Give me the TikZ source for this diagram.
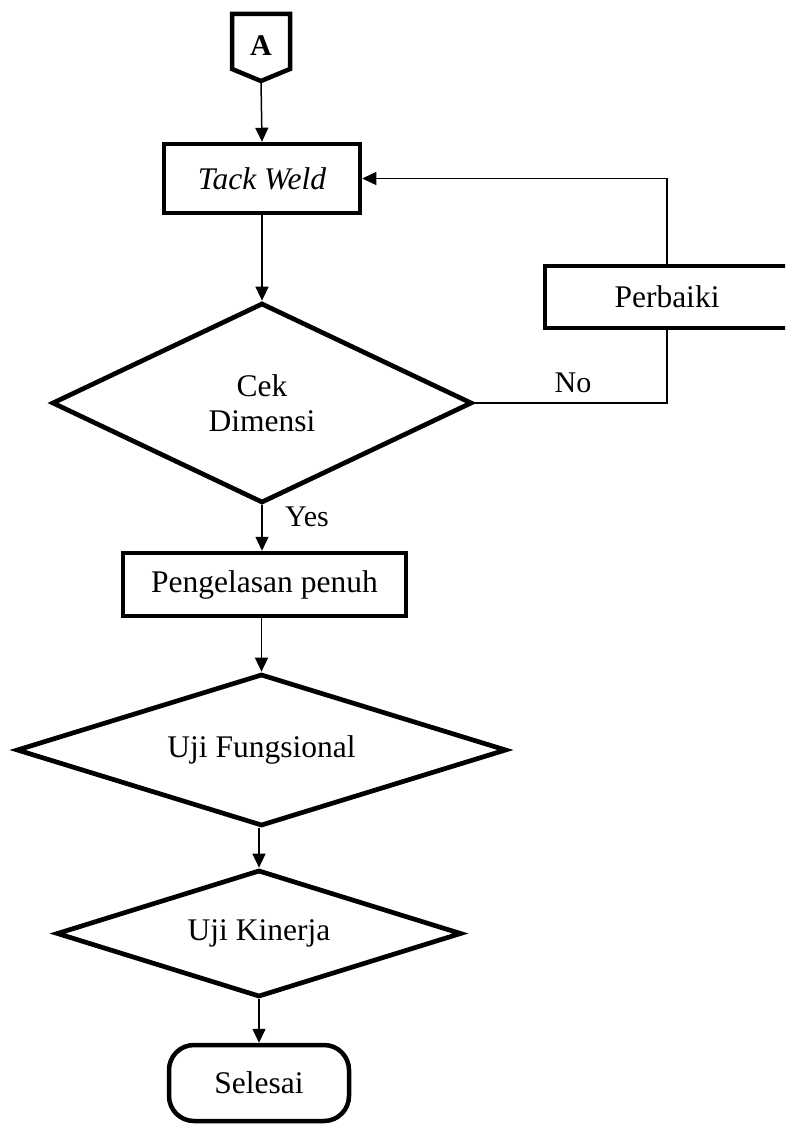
\documentclass[tikz,border=0pt]{standalone}
\usepackage{fontspec}
\setmainfont{Liberation Serif}
\usetikzlibrary{shapes.geometric,arrows.meta}
\newcommand\mainfsz{\fontsize{31.5}{35}\selectfont}
\newcommand\lblfsz{\fontsize{30}{34}\selectfont}
\begin{document}
\begin{tikzpicture}[x=1pt,y=-1pt,
  box/.style={draw,line width=4.5pt,rectangle,inner sep=0pt,font=\mainfsz},
  dia/.style={draw,line width=4.7pt,diamond,shape aspect=3,inner sep=0pt,font=\mainfsz,align=center},
  conn/.style={line width=1.5pt,-{Triangle[length=14pt,width=13pt]}},
  plain/.style={line width=1.5pt},
  lbl/.style={font=\lblfsz,inner sep=0pt}]
\useasboundingbox (0,0) rectangle (785,1126);
\clip (0,0) rectangle (785,1126);

% off-page connector A
\draw[line width=4.5pt] (232,14) -- (290,14) -- (290,69) -- (261,81) -- (232,69) -- cycle;
\node[font=\lblfsz\bfseries,inner sep=0pt] (A) at (261,46) {A};
\coordinate (Abot) at (261,81);

\node[box,minimum width=196pt,minimum height=69pt] (tack) at (262,178.5) {\itshape Tack Weld};
\node[dia,minimum width=420pt,minimum height=200pt] (cek) at (262,403) {Cek\\Dimensi};
\node[box,minimum width=283pt,minimum height=63pt] (peng) at (264.5,584.5) {Pengelasan penuh};
\node[dia,minimum width=490pt,minimum height=152pt] (fung) at (261.5,750) {Uji Fungsional};
\node[dia,minimum width=405pt,minimum height=127pt] (kin) at (259,933.5) {Uji Kinerja};
\node[box,rounded corners=25pt,minimum width=180pt,minimum height=76pt] (sel) at (259,1083) {Selesai};
\node[box,minimum width=252pt,minimum height=62pt] (perb) at (671,297) {\hspace*{-8pt}Perbaiki};

\draw[conn] (Abot) -- (tack.north);
\draw[conn] (tack.south) -- (cek.north);
\draw[conn] (cek.south) -- (cek.south |- peng.north);
\draw[conn] (peng.south -| fung.north) -- (fung.north);
\draw[conn] (kin.north |- fung.south) -- (kin.north);
\draw[conn] (kin.south) -- (kin.south |- sel.north);

\coordinate (fb) at (667,297);
\draw[plain] (cek.east) -- (cek.east -| fb) -- (fb |- perb.south);
\draw[conn] (fb |- perb.north) -- (fb |- tack.east) -- (tack.east);

\node[lbl] (no) at (573,383) {No};
\node[lbl] (yes) at (307,517) {Yes};
\end{tikzpicture}
\end{document}
